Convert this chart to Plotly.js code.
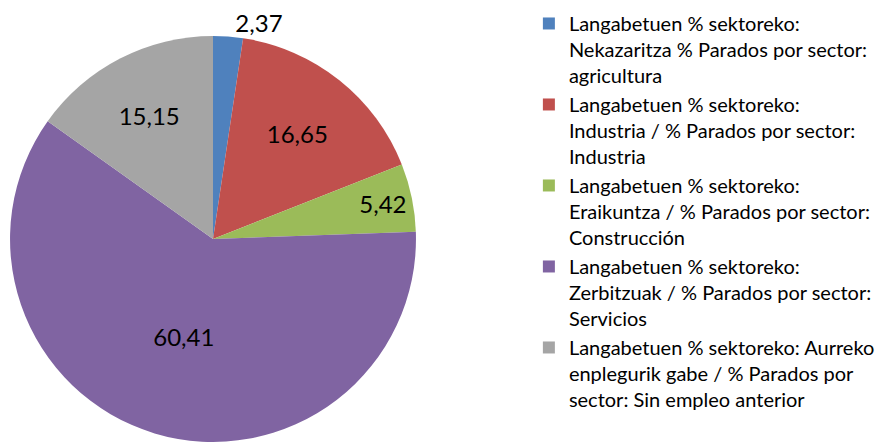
<!DOCTYPE html>
<html><head><meta charset="utf-8">
<script src="https://cdn.plot.ly/plotly-3.0.1.min.js"></script>
<style>html,body{margin:0;padding:0;background:#fff}</style>
</head><body><div id="chart" style="width:880px;height:442px"></div>
<script>
const labels = [
  "Langabetuen % sektoreko:<br>Nekazaritza % Parados por sector:<br>agricultura",
  "Langabetuen % sektoreko:<br>Industria / % Parados por sector:<br>Industria",
  "Langabetuen % sektoreko:<br>Eraikuntza / % Parados por sector:<br>Construcción",
  "Langabetuen % sektoreko:<br>Zerbitzuak / % Parados por sector:<br>Servicios",
  "Langabetuen % sektoreko: Aurreko<br>enplegurik gabe / % Parados por<br>sector: Sin empleo anterior"
];
const values = [2.37, 16.65, 5.42, 60.41, 15.15];
const colors = ["#4F81BD", "#C0504D", "#9BBB59", "#8064A2", "#A5A5A5"];
const positions = ["outside", "inside", "inside", "inside", "inside"];

const trace = {
  type: "pie",
  labels: labels,
  values: values,
  text: values.map(v => v.toFixed(2).replace(".", ",")),
  textinfo: "text",
  hoverinfo: "none",
  textposition: positions,
  insidetextorientation: "horizontal",
  sort: false,
  direction: "clockwise",
  rotation: 0,
  marker: {colors: colors, line: {width: 0}},
  textfont: {family: "Lato, sans-serif", size: 24, color: "#000"},
  domain: {x: [0.0114, 0.4727], y: [0, 0.9186]},
  automargin: false
};

const layout = {
  width: 880, height: 442,
  margin: {l: 0, r: 0, t: 0, b: 0},
  paper_bgcolor: "#fff",
  showlegend: true,
  legend: {
    x: 0.601, y: 0.991, xanchor: "left", yanchor: "top",
    valign: "top",
    font: {family: "Lato, sans-serif", size: 20, color: "#000"},
    itemclick: false, tracegroupgap: 0, itemwidth: 30
  },
  font: {family: "Lato, sans-serif"}
};

Plotly.newPlot("chart", [trace], layout, {staticPlot: true});
</script></body></html>
